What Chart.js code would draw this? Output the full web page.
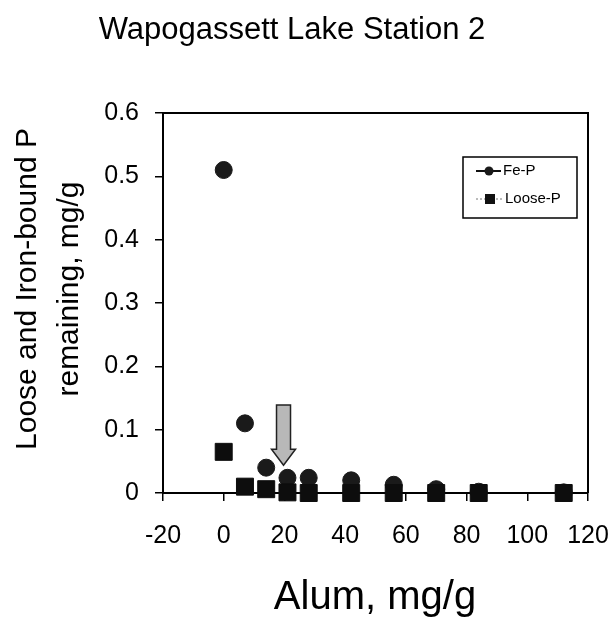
<!DOCTYPE html>
<html>
<head>
<meta charset="utf-8">
<script src="https://cdn.jsdelivr.net/npm/chart.js@4"></script>
<style>
  body { margin: 0; background: #fff; }
  canvas { display: block; }
</style>
</head>
<body>
<canvas id="grafico" width="615" height="622"></canvas>
<script>
// Alum dose (mg/g) and P remaining (mg/g)
const alumDose = [0, 7, 14, 21, 28, 42, 56, 70, 84, 112];
const feP = [0.51, 0.11, 0.04, 0.024, 0.024, 0.02, 0.013, 0.006, 0.002, 0.001];
const looseP = [0.065, 0.01, 0.006, 0.001, 0, 0, 0, 0, 0, 0];
const xTicks = [-20, 0, 20, 40, 60, 80, 100, 120];
const yTicks = [0, 0.1, 0.2, 0.3, 0.4, 0.5, 0.6];
// arrow marking the chosen dose (data units)
const arrowDose = 19.7;
const arrowFrom = 0.139;
const arrowTo = 0.044;

const fonte = '"Liberation Sans", Arial, sans-serif';

const toPoints = (xs, ys) => xs.map((x, i) => ({ x: x, y: ys[i] }));

// frame, arrow, legend and titles
const extras = {
    id: 'extras',
    afterDatasetsDraw(chart) {
        const ctx = chart.ctx;
        const a = chart.chartArea;
        const xs = chart.scales.x, ys = chart.scales.y;

        ctx.save();
        // box around the plot
        ctx.strokeStyle = '#000';
        ctx.lineWidth = 2;
        ctx.beginPath();
        ctx.moveTo(a.left, a.top);
        ctx.lineTo(a.right, a.top);
        ctx.lineTo(a.right, a.bottom);
        ctx.stroke();

        // arrow
        const ax = xs.getPixelForValue(arrowDose);
        const y1 = ys.getPixelForValue(arrowFrom);
        const y2 = ys.getPixelForValue(arrowTo);
        const headH = 16;
        ctx.beginPath();
        ctx.moveTo(ax - 7, y1);
        ctx.lineTo(ax + 7, y1);
        ctx.lineTo(ax + 7, y2 - headH);
        ctx.lineTo(ax + 12, y2 - headH);
        ctx.lineTo(ax, y2);
        ctx.lineTo(ax - 12, y2 - headH);
        ctx.lineTo(ax - 7, y2 - headH);
        ctx.closePath();
        ctx.fillStyle = '#b8b8b8';
        ctx.fill();
        ctx.lineWidth = 1.5;
        ctx.strokeStyle = '#222';
        ctx.stroke();

        // legend box
        const lx = a.right - 125, ly = a.top + 44;
        ctx.lineWidth = 1.5;
        ctx.strokeStyle = '#000';
        ctx.fillStyle = '#fff';
        ctx.fillRect(lx, ly, 114, 61);
        ctx.strokeRect(lx, ly, 114, 61);

        ctx.lineWidth = 2;
        ctx.strokeStyle = '#111';
        ctx.beginPath();
        ctx.moveTo(lx + 13, ly + 14);
        ctx.lineTo(lx + 38, ly + 14);
        ctx.stroke();
        ctx.fillStyle = '#1a1a1a';
        ctx.beginPath();
        ctx.arc(lx + 26, ly + 14, 4.5, 0, Math.PI * 2);
        ctx.fill();

        ctx.lineWidth = 1;
        ctx.strokeStyle = '#777';
        ctx.setLineDash([2, 2]);
        ctx.beginPath();
        ctx.moveTo(lx + 13, ly + 42);
        ctx.lineTo(lx + 40, ly + 42);
        ctx.stroke();
        ctx.setLineDash([]);
        ctx.fillStyle = '#111';
        ctx.fillRect(lx + 22, ly + 37, 10, 10);

        ctx.fillStyle = '#000';
        ctx.textBaseline = 'middle';
        ctx.textAlign = 'left';
        ctx.font = '15px ' + fonte;
        ctx.fillText('Fe-P', lx + 40, ly + 14);
        ctx.fillText('Loose-P', lx + 42, ly + 42);

        // titles
        ctx.textAlign = 'center';
        ctx.font = '31px ' + fonte;
        ctx.fillText('Wapogassett Lake Station 2', 292, 30);

        ctx.font = '40px ' + fonte;
        ctx.fillText('Alum, mg/g', 375, 598);

        ctx.translate(50, (a.top + a.bottom) / 2 - 14);
        ctx.rotate(-Math.PI / 2);
        ctx.font = '30px ' + fonte;
        ctx.fillText('Loose and Iron-bound P', 0, -22);
        ctx.fillText('remaining, mg/g', 0, 20);
        ctx.restore();
    }
};

new Chart(document.getElementById('grafico').getContext('2d'), {
    type: 'scatter',
    data: {
        datasets: [{
            label: 'Fe-P',
            data: toPoints(alumDose, feP),
            pointStyle: 'circle',
            pointRadius: 8.5,
            pointBackgroundColor: '#1a1a1a',
            pointBorderColor: '#1a1a1a',
            showLine: false,
            clip: false,
            order: 2
        }, {
            label: 'Loose-P',
            data: toPoints(alumDose, looseP),
            pointStyle: 'rect',
            pointRadius: 12,
            pointBackgroundColor: '#0d0d0d',
            pointBorderColor: '#0d0d0d',
            showLine: false,
            clip: false,
            order: 1
        }]
    },
    options: {
        responsive: false,
        animation: false,
        layout: { padding: { top: 113, right: 27, left: 0, bottom: 0 } },
        plugins: {
            legend: { display: false },
            tooltip: { enabled: false }
        },
        scales: {
            x: {
                type: 'linear',
                min: -20,
                max: 120,
                afterBuildTicks: s => { s.ticks = xTicks.map(v => ({ value: v })); },
                afterFit: s => { s.height = 129; s.paddingLeft = 0; s.paddingRight = 0; },
                grid: { drawOnChartArea: false, drawTicks: true, tickLength: 8, color: '#000', lineWidth: 1.5 },
                border: { display: true, color: '#000', width: 2 },
                ticks: { color: '#000', padding: 20, maxRotation: 0, font: { family: fonte, size: 25 } }
            },
            y: {
                type: 'linear',
                min: 0,
                max: 0.6,
                afterBuildTicks: s => { s.ticks = yTicks.map(v => ({ value: v })); },
                afterFit: s => { s.width = 163; },
                grid: { drawOnChartArea: false, drawTicks: true, tickLength: 8, color: '#000', lineWidth: 1.5 },
                border: { display: true, color: '#000', width: 2 },
                ticks: { color: '#000', padding: 16, font: { family: fonte, size: 25 } }
            }
        }
    },
    plugins: [extras]
});
</script>
</body>
</html>
